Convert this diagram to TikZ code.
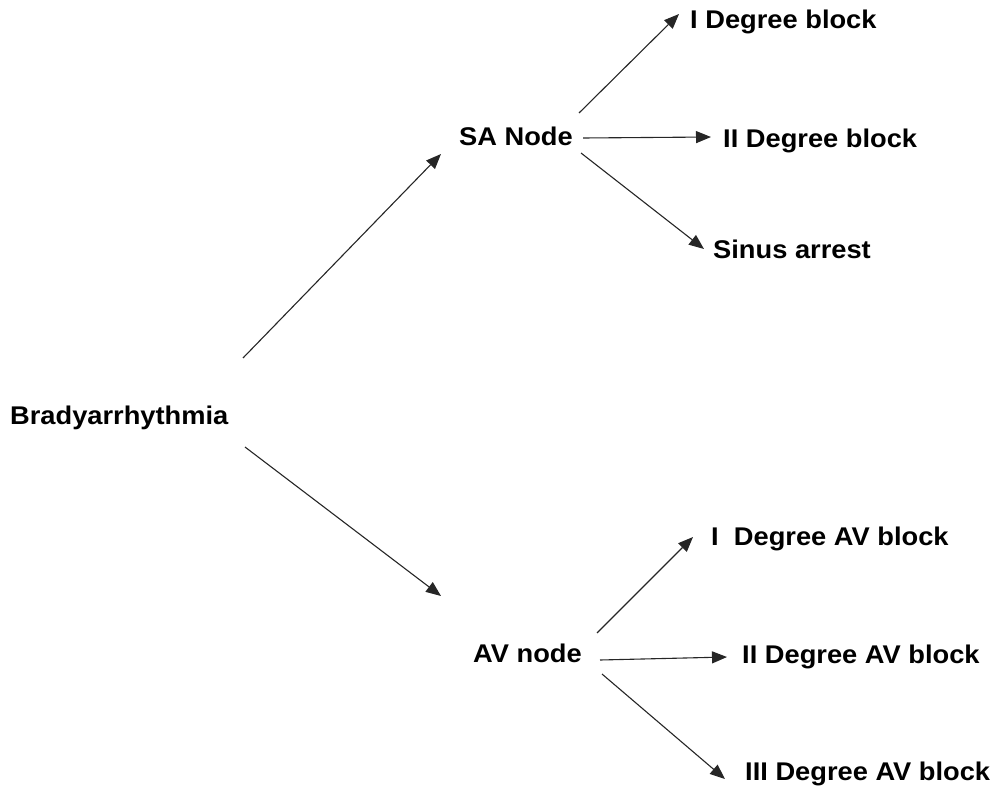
\documentclass[tikz,border=0pt]{standalone}
\usepackage{fontspec}
\setmainfont{Liberation Sans}
\usetikzlibrary{arrows.meta}
\newcommand{\lbltext}[1]{\scalebox{1.065}[1]{#1}}
\begin{document}
\begin{tikzpicture}[x=1pt,y=-1pt,
  lbl/.style={anchor=base west,inner sep=0pt,font=\fontsize{25.6}{30}\selectfont\bfseries},
  arr/.style={draw=black!85,line width=1.1pt,-{Triangle[length=15pt,width=12pt]}}]
\useasboundingbox (0,0) rectangle (1003,789);
% nodes
\node[lbl] (brady) at (10,424) {\lbltext{Bradyarrhythmia}};
\node[lbl] (sa) at (459,146) {\lbltext{SA Node}};
\node[lbl] (av) at (473,662) {\lbltext{AV node}};
\node[lbl] (sa1) at (690,29) {\lbltext{I Degree block}};
\node[lbl] (sa2) at (723,147) {\lbltext{II Degree block}};
\node[lbl] (sa3) at (713,258) {\lbltext{Sinus arrest}};
\node[lbl] (av1) at (711,545) {\lbltext{I\ \ Degree AV block}};
\node[lbl] (av2) at (742,663) {\lbltext{II Degree AV block}};
\node[lbl] (av3) at (745,780) {\lbltext{III Degree AV block}};
% connector end points
\coordinate (b-sa-s) at (243,358);
\coordinate (b-sa-e) at (441,154);
\coordinate (b-av-s) at (245,447);
\coordinate (b-av-e) at (441,596);
\coordinate (sa1-s) at (579,113);
\coordinate (sa1-e) at (679,14);
\coordinate (sa2-s) at (583,138);
\coordinate (sa2-e) at (711,137);
\coordinate (sa3-s) at (581,153);
\coordinate (sa3-e) at (704,249);
\coordinate (av1-s) at (597,633);
\coordinate (av1-e) at (693,537);
\coordinate (av2-s) at (600,660);
\coordinate (av2-e) at (727,657);
\coordinate (av3-s) at (602,674);
\coordinate (av3-e) at (725,779);
% connectors
\draw[arr] (b-sa-s) -- (b-sa-e);
\draw[arr] (b-av-s) -- (b-av-e);
\draw[arr] (sa1-s) -- (sa1-e);
\draw[arr] (sa2-s) -- (sa2-e);
\draw[arr] (sa3-s) -- (sa3-e);
\draw[arr] (av1-s) -- (av1-e);
\draw[arr] (av2-s) -- (av2-e);
\draw[arr] (av3-s) -- (av3-e);
\end{tikzpicture}
\end{document}
